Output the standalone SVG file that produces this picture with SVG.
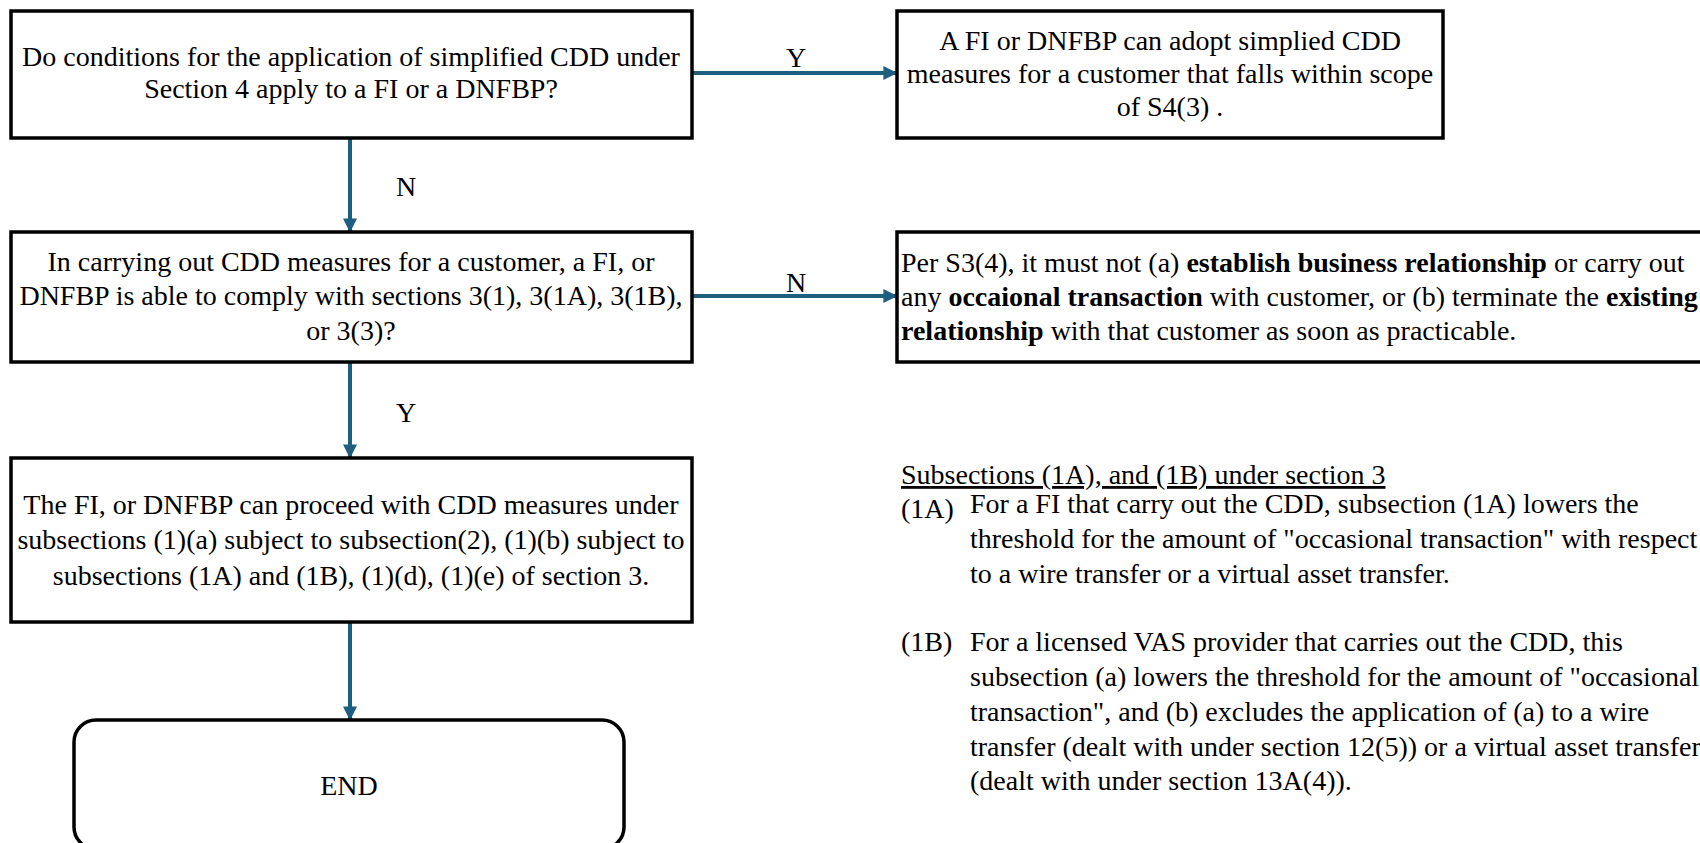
<svg xmlns="http://www.w3.org/2000/svg" width="1700" height="843" viewBox="0 0 1700 843">
<style>
.box{fill:#fff;stroke:#000;stroke-width:3.5}
.t{font-family:"Liberation Serif","Times New Roman",serif;font-size:28px;fill:#000}
.c{text-anchor:middle}
.b{font-weight:bold}
.con{stroke:#1E5F80;stroke-width:4;fill:none}
</style>
<defs>
<marker id="ah" viewBox="0 0 10 10" refX="9" refY="5" markerWidth="4" markerHeight="3.5" orient="auto" markerUnits="strokeWidth">
<path d="M0,0 L10,5 L0,10 z" fill="#1E5F80"/>
</marker>
</defs>
<rect width="1700" height="843" fill="#fff"/>
<g id="connectors">
<line class="con" x1="692" y1="73" x2="896" y2="73" marker-end="url(#ah)"/>
<line class="con" x1="692" y1="296" x2="896" y2="296" marker-end="url(#ah)"/>
<line class="con" x1="350" y1="138" x2="350" y2="231" marker-end="url(#ah)"/>
<line class="con" x1="350" y1="362" x2="350" y2="457" marker-end="url(#ah)"/>
<line class="con" x1="350" y1="622" x2="350" y2="719" marker-end="url(#ah)"/>
<text class="t c" x="796" y="67">Y</text>
<text class="t c" x="796" y="292">N</text>
<text class="t c" x="406" y="196">N</text>
<text class="t c" x="406" y="422">Y</text>
</g>
<g id="q1">
<rect class="box" x="11" y="11" width="681" height="127"/>
<text class="t c" x="351" y="66">Do conditions for the application of simplified CDD under</text>
<text class="t c" x="351" y="98">Section 4 apply to a FI or a DNFBP?</text>
</g>
<g id="simplified">
<rect class="box" x="897" y="11" width="546" height="127"/>
<text class="t c" x="1170" y="50">A FI or DNFBP can adopt simplied CDD</text>
<text class="t c" x="1170" y="83">measures for a customer that falls within scope</text>
<text class="t c" x="1170" y="116">of S4(3) .</text>
</g>
<g id="q2">
<rect class="box" x="11" y="232" width="681" height="130"/>
<text class="t c" x="351" y="271">In carrying out CDD measures for a customer, a FI, or</text>
<text class="t c" x="351" y="305">DNFBP is able to comply with sections 3(1), 3(1A), 3(1B),</text>
<text class="t c" x="351" y="340">or 3(3)?</text>
</g>
<g id="mustnot">
<rect class="box" x="897" y="232" width="820" height="130"/>
<text class="t" x="901" y="272">Per S3(4), it must not (a) <tspan class="b">establish business relationship</tspan> or carry out</text>
<text class="t" x="901" y="306">any <tspan class="b">occaional transaction</tspan> with customer, or (b) terminate the <tspan class="b">existing</tspan></text>
<text class="t" x="901" y="340"><tspan class="b">relationship</tspan> with that customer as soon as practicable.</text>
</g>
<g id="proceed">
<rect class="box" x="11" y="458" width="681" height="164"/>
<text class="t c" x="351" y="514">The FI, or DNFBP can proceed with CDD measures under</text>
<text class="t c" x="351" y="549">subsections (1)(a) subject to subsection(2), (1)(b) subject to</text>
<text class="t c" x="351" y="585">subsections (1A) and (1B), (1)(d), (1)(e) of section 3.</text>
</g>
<g id="end">
<rect class="box" x="74" y="720" width="550" height="129" rx="22"/>
<text class="t c" x="349" y="795">END</text>
</g>
<g id="notes">
<text class="t" x="901" y="484" text-decoration="underline">Subsections (1A), and (1B) under section 3</text>
<text class="t" x="901" y="518">(1A)</text>
<text class="t" x="970" y="513">For a FI that carry out the CDD, subsection (1A) lowers the</text>
<text class="t" x="970" y="548">threshold for the amount of "occasional transaction" with respect</text>
<text class="t" x="970" y="583">to a wire transfer or a virtual asset transfer.</text>
<text class="t" x="901" y="651">(1B)</text>
<text class="t" x="970" y="651">For a licensed VAS provider that carries out the CDD, this</text>
<text class="t" x="970" y="686">subsection (a) lowers the threshold for the amount of "occasional</text>
<text class="t" x="970" y="721">transaction", and (b) excludes the application of (a) to a wire</text>
<text class="t" x="970" y="756">transfer (dealt with under section 12(5)) or a virtual asset transfer</text>
<text class="t" x="970" y="790">(dealt with under section 13A(4)).</text>
</g>
</svg>
